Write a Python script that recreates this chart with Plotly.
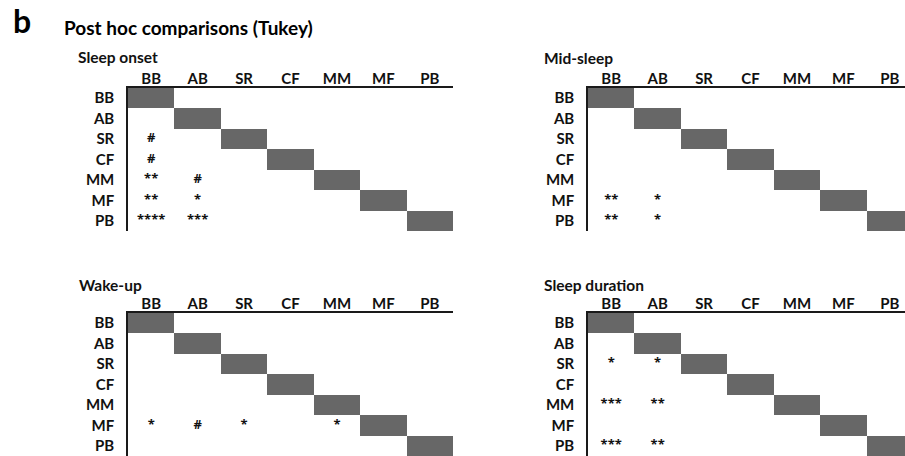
import plotly.graph_objects as go

# Groups compared in every Tukey matrix (rows and columns share the order)
groups = ["BB", "AB", "SR", "CF", "MM", "MF", "PB"]

panel_titles = ["Sleep onset", "Mid-sleep", "Wake-up", "Sleep duration"]

# Significance marks per panel: (row group, column group, label)
sleep_onset_marks = [
    ("SR", "BB", "#"), ("CF", "BB", "#"),
    ("MM", "BB", "**"), ("MM", "AB", "#"),
    ("MF", "BB", "**"), ("MF", "AB", "*"),
    ("PB", "BB", "****"), ("PB", "AB", "***"),
]
mid_sleep_marks = [
    ("MF", "BB", "**"), ("MF", "AB", "*"),
    ("PB", "BB", "**"), ("PB", "AB", "*"),
]
wake_up_marks = [
    ("MF", "BB", "*"), ("MF", "AB", "#"), ("MF", "SR", "*"), ("MF", "MM", "*"),
]
sleep_duration_marks = [
    ("SR", "BB", "*"), ("SR", "AB", "*"),
    ("MM", "BB", "***"), ("MM", "AB", "**"),
    ("PB", "BB", "***"), ("PB", "AB", "**"),
]
panel_marks = [sleep_onset_marks, mid_sleep_marks, wake_up_marks, sleep_duration_marks]

# Page geometry (pixels)
W, H = 905, 456
CELL_W, CELL_H = 46.43, 20.43
origins = [(128, 88), (588, 88), (128, 313), (588, 313)]   # top-left of each matrix
title_pos = [(76, 57), (542, 58), (77, 285), (542, 285)]

FONT = "Lato"
MARK_FONT = "Open Sans"
GRAY = "#676767"
LINE = "#1a1a1a"
n = len(groups)

fig = go.Figure()
layout_axes = {}

for i, (title, marks) in enumerate(zip(panel_titles, panel_marks)):
    left, top = origins[i]
    right = min(left + n * CELL_W, W)
    bottom = min(top + n * CELL_H, H)
    xa = "x" if i == 0 else f"x{i + 1}"
    ya = "y" if i == 0 else f"y{i + 1}"

    # Diagonal (self-comparison) cells
    z = [[1 if r == c else None for c in range(n)] for r in range(n)]
    fig.add_trace(go.Heatmap(
        z=z, x=list(range(n)), y=list(range(n)),
        colorscale=[[0, GRAY], [1, GRAY]], showscale=False,
        hoverinfo="skip", xaxis=xa, yaxis=ya,
    ))

    # Significance labels
    fig.add_trace(go.Scatter(
        x=[groups.index(c) for r, c, s in marks],
        y=[groups.index(r) for r, c, s in marks],
        text=[s for r, c, s in marks],
        mode="text",
        textfont=dict(family=MARK_FONT, size=13, color="#111", weight="bold"),
        textposition="middle center",
        hoverinfo="skip", showlegend=False, xaxis=xa, yaxis=ya,
    ))

    key_x = "xaxis" if i == 0 else f"xaxis{i + 1}"
    key_y = "yaxis" if i == 0 else f"yaxis{i + 1}"
    layout_axes[key_x] = dict(
        domain=[left / W, right / W],
        range=[-0.5, -0.5 + (right - left) / CELL_W],
        anchor=ya, side="top",
        tickvals=list(range(n)), ticktext=groups,
        tickfont=dict(family=FONT, size=15, color="#111", weight="bold"),
        showline=True, linecolor=LINE, linewidth=1.5,
        showgrid=False, zeroline=False, ticks="", ticklabelstandoff=-4,
        fixedrange=True,
    )
    layout_axes[key_y] = dict(
        domain=[1 - bottom / H, 1 - top / H],
        range=[-0.5 + (bottom - top) / CELL_H, -0.5],
        anchor=xa,
        tickvals=list(range(n)), ticktext=groups,
        tickfont=dict(family=FONT, size=15, color="#111", weight="bold"),
        showline=True, linecolor=LINE, linewidth=1.5,
        showgrid=False, zeroline=False, ticks="", ticklabelstandoff=9,
        fixedrange=True,
    )

annotations = []
for (tx, ty), title in zip(title_pos, panel_titles):
    annotations.append(dict(
        text=title, x=tx / W, y=1 - ty / H, xref="paper", yref="paper",
        xanchor="left", yanchor="middle", showarrow=False,
        font=dict(family=FONT, size=15.5, color="#111", weight="bold"),
    ))
annotations.append(dict(
    text="b", x=11 / W, y=1 - 20 / H, xref="paper", yref="paper",
    xanchor="left", yanchor="middle", showarrow=False,
    font=dict(family=FONT, size=32, color="#000", weight="bold"),
))
annotations.append(dict(
    text="Post hoc comparisons (Tukey)", x=62 / W, y=1 - 27 / H,
    xref="paper", yref="paper", xanchor="left", yanchor="middle",
    showarrow=False,
    font=dict(family=FONT, size=19, color="#000", weight="bold"),
))

fig.update_layout(
    width=W, height=H,
    margin=dict(l=0, r=0, t=0, b=0),
    paper_bgcolor="white", plot_bgcolor="white",
    showlegend=False,
    annotations=annotations,
    **layout_axes,
)

fig.write_html("out.html", config={"displayModeBar": False})
